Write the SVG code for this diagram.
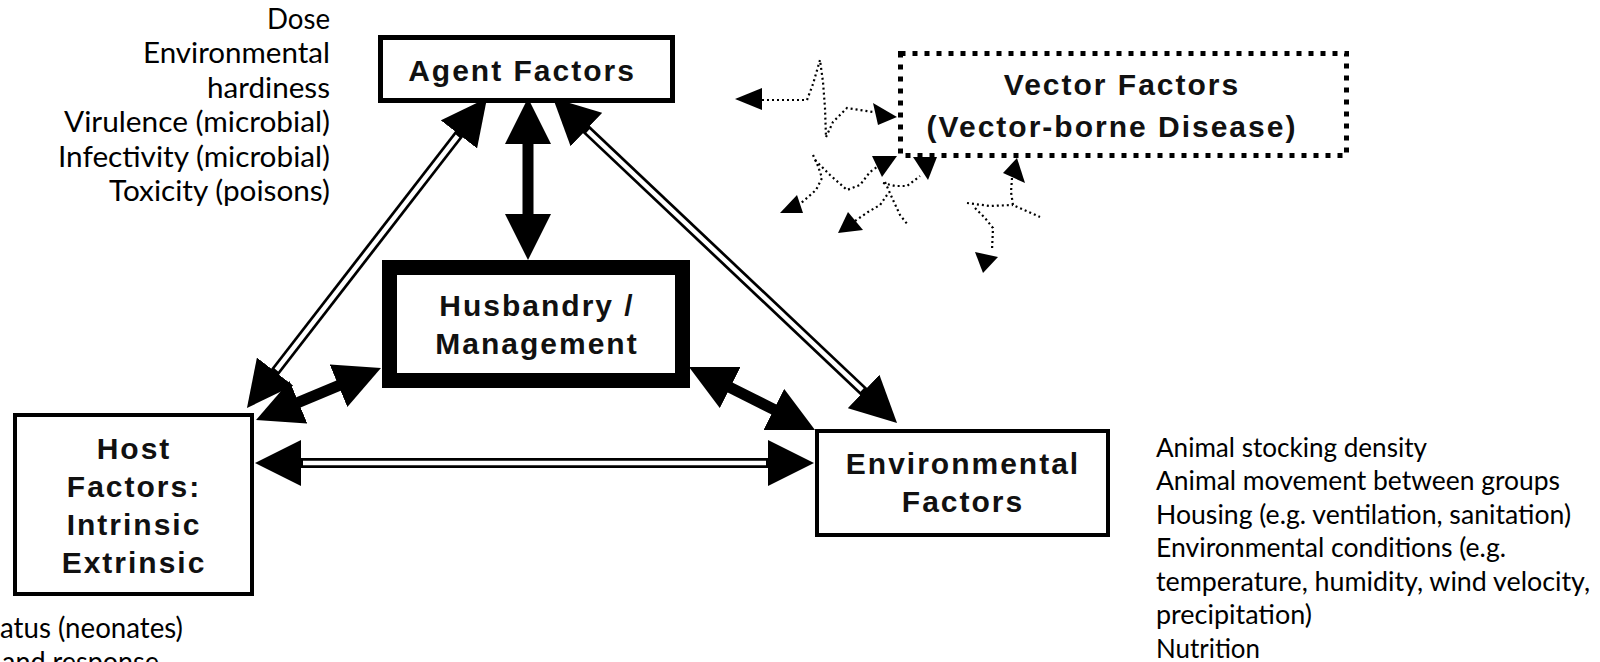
<svg xmlns="http://www.w3.org/2000/svg" width="1600" height="662" viewBox="0 0 1600 662">
<style>
.box{fill:#fff;stroke:#000}
.lbl{font-family:"Liberation Sans",Arial,sans-serif;font-weight:bold;font-size:30px;letter-spacing:2px;text-anchor:middle;fill:#111}
.note{font-family:Lato,"Liberation Sans",sans-serif;fill:#000}
.noteL{font-size:29px}
.noteR{font-size:26.5px}
.dblo{stroke:#000;stroke-width:10;fill:none}
.dbli{stroke:#fff;stroke-width:4.5;fill:none}
.thick{stroke:#000;stroke-width:11;fill:none}
.dots{fill:none;stroke:#000;stroke-width:2.2;stroke-dasharray:2 3}
.tri{fill:#000}
</style>
<defs>
<marker id="ah" viewBox="0 0 46 46" refX="26" refY="23" markerWidth="46" markerHeight="46" markerUnits="userSpaceOnUse" orient="auto-start-reverse">
<path d="M0,0 L46,23 L0,46 z" fill="#000"/>
</marker>
</defs>
<rect width="1600" height="662" fill="#fff"/>

<g id="connectors">
<line class="thick" x1="528" y1="118" x2="528" y2="240" marker-start="url(#ah)" marker-end="url(#ah)"/>
<line class="dblo" x1="474.8" y1="113.8" x2="259.2" y2="392.2" marker-start="url(#ah)" marker-end="url(#ah)"/>
<line class="dbli" x1="457.6" y1="136" x2="276.4" y2="370"/>
<line class="dblo" x1="567.5" y1="111.7" x2="882.5" y2="409.3" marker-start="url(#ah)" marker-end="url(#ah)"/>
<line class="dbli" x1="587.9" y1="131" x2="862.1" y2="390"/>
<line class="dblo" x1="275" y1="463" x2="794" y2="463" marker-start="url(#ah)" marker-end="url(#ah)"/>
<line class="dbli" x1="303" y1="463" x2="766" y2="463"/>
<line class="thick" x1="274.5" y1="412.3" x2="362.5" y2="375.7" marker-start="url(#ah)" marker-end="url(#ah)"/>
<line class="thick" x1="706.9" y1="375.9" x2="797.1" y2="421.1" marker-start="url(#ah)" marker-end="url(#ah)"/>
<g id="vector-arrows">
<polyline class="dots" points="762,100 807,100 813,84 820,60 823,82 825,108 826,137"/>
<polyline class="dots" points="826,137 833,122 847,108 873,112"/>
<polyline class="dots" points="813,155 818,166 822,178 816,190 800,204"/>
<polyline class="dots" points="815,160 830,175 847,190 860,185 870,172 877,167"/>
<polyline class="dots" points="883,183 895,186 907,186 920,176"/>
<polyline class="dots" points="885,182 893,200 900,215 908,225"/>
<polyline class="dots" points="855,221 868,212 880,205 887,195"/>
<polyline class="dots" points="1012,178 1011,192 1013,205 1040,217"/>
<polyline class="dots" points="967,203 990,206 1013,205"/>
<polyline class="dots" points="975,208 985,218 993,228 992,250"/>
<polygon class="tri" points="735,99 762,88 762,110"/>
<polygon class="tri" points="897,117 873,103 878,125"/>
<polygon class="tri" points="872,156 897,156 882,177"/>
<polygon class="tri" points="913,157 937,157 928,180"/>
<polygon class="tri" points="780,213 797,195 803,213"/>
<polygon class="tri" points="838,233 848,212 863,230"/>
<polygon class="tri" points="1003,173 1017,158 1025,183"/>
<polygon class="tri" points="975,252 998,257 983,273"/>
</g>
</g>

<g id="agent">
<rect class="box" x="380.5" y="37.5" width="292" height="63" stroke-width="5"/>
<text class="lbl" x="522" y="81">Agent Factors</text>
</g>

<g id="vector">
<rect x="900.5" y="53.5" width="446" height="102" fill="none" stroke="#000" stroke-width="5" stroke-dasharray="5 7"/>
<text class="lbl" x="1122" y="95">Vector Factors</text>
<text class="lbl" x="1112" y="137">(Vector-borne Disease)</text>
</g>

<g id="husbandry">
<rect class="box" x="389.5" y="267.5" width="293" height="113" stroke-width="15"/>
<text class="lbl" x="537" y="316">Husbandry /</text>
<text class="lbl" x="537" y="354">Management</text>
</g>

<g id="host">
<rect class="box" x="15" y="415" width="237" height="179" stroke-width="4"/>
<text class="lbl" x="134" y="459">Host</text>
<text class="lbl" x="134" y="497">Factors:</text>
<text class="lbl" x="134" y="535">Intrinsic</text>
<text class="lbl" x="134" y="573">Extrinsic</text>
</g>

<g id="environment">
<rect class="box" x="817" y="431" width="291" height="104" stroke-width="4"/>
<text class="lbl" x="963" y="474">Environmental</text>
<text class="lbl" x="963" y="512">Factors</text>
</g>

<g id="agent-notes" class="note noteL" text-anchor="end">
<text x="330" y="29" textLength="63" lengthAdjust="spacingAndGlyphs">Dose</text>
<text x="330" y="63" textLength="187" lengthAdjust="spacingAndGlyphs">Environmental</text>
<text x="330" y="98" textLength="123" lengthAdjust="spacingAndGlyphs">hardiness</text>
<text x="330" y="132" textLength="266" lengthAdjust="spacingAndGlyphs">Virulence (microbial)</text>
<text x="330" y="167" textLength="272" lengthAdjust="spacingAndGlyphs">Infectivity (microbial)</text>
<text x="330" y="201" textLength="221" lengthAdjust="spacingAndGlyphs">Toxicity (poisons)</text>
</g>

<g id="host-notes" class="note noteL">
<text x="0" y="638" textLength="183" lengthAdjust="spacingAndGlyphs">atus (neonates)</text>
<text x="2" y="672" textLength="157" lengthAdjust="spacingAndGlyphs">and response</text>
</g>

<g id="env-notes" class="note noteR">
<text x="1156" y="457" textLength="271" lengthAdjust="spacingAndGlyphs">Animal stocking density</text>
<text x="1156" y="490" textLength="404" lengthAdjust="spacingAndGlyphs">Animal movement between groups</text>
<text x="1156" y="524" textLength="415" lengthAdjust="spacingAndGlyphs">Housing (e.g. ventilation, sanitation)</text>
<text x="1156" y="557" textLength="350" lengthAdjust="spacingAndGlyphs">Environmental conditions (e.g.</text>
<text x="1156" y="591" textLength="434" lengthAdjust="spacingAndGlyphs">temperature, humidity, wind velocity,</text>
<text x="1156" y="624" textLength="156" lengthAdjust="spacingAndGlyphs">precipitation)</text>
<text x="1156" y="658" textLength="104" lengthAdjust="spacingAndGlyphs">Nutrition</text>
</g>
</svg>
